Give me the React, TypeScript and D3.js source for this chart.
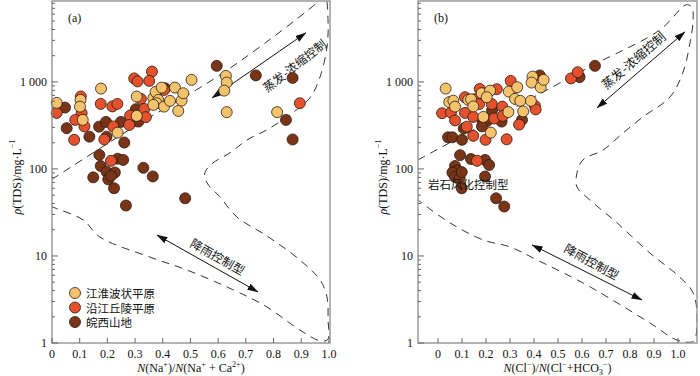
import React from 'react';
import * as d3 from 'd3';

const W = 700;
const H = 376;

// ---------- data: [ratio, TDS mg/L] ----------
const seriesNames = ['江淮波状平原', '沿江丘陵平原', '皖西山地'];
const seriesColors = ['#F5C36B', '#E5502D', '#7A3518'];

const aJianghuai: [number, number][] = [
  [0.017, 574], [0.103, 621], [0.101, 520], [0.111, 366], [0.177, 838], [0.237, 261],
  [0.306, 678], [0.366, 650], [0.374, 767], [0.396, 860], [0.384, 621], [0.378, 569],
  [0.366, 544], [0.405, 520], [0.426, 605], [0.444, 860], [0.456, 464], [0.468, 610],
  [0.474, 741], [0.504, 1055], [0.628, 1172], [0.631, 982], [0.622, 794], [0.631, 449],
  [0.813, 449], [0.306, 407],
];
const aYanjiang: [number, number][] = [
  [0.017, 440], [0.104, 681], [0.107, 437], [0.117, 308], [0.084, 366], [0.08, 216],
  [0.176, 559], [0.218, 523], [0.236, 559], [0.221, 308], [0.189, 218], [0.297, 1097],
  [0.309, 1013], [0.361, 1313], [0.351, 1027], [0.321, 638], [0.282, 410], [0.279, 320],
  [0.333, 489], [0.405, 809], [0.213, 124], [0.895, 569], [0.339, 393],
];
const aWanxi: [number, number][] = [
  [0.047, 507], [0.053, 294], [0.135, 235], [0.17, 306], [0.195, 347], [0.197, 235],
  [0.249, 347], [0.261, 201], [0.303, 486], [0.312, 350], [0.408, 847], [0.171, 145],
  [0.176, 108], [0.197, 93], [0.203, 76], [0.227, 91], [0.237, 131], [0.257, 127],
  [0.149, 80], [0.224, 60], [0.267, 38], [0.33, 103], [0.364, 82], [0.481, 46],
  [0.595, 1528], [0.736, 1188], [0.869, 1112], [0.845, 366], [0.869, 218], [0.213, 83],
];

const bJianghuai: [number, number][] = [
  [0.032, 838], [0.047, 586], [0.064, 608], [0.071, 520], [0.126, 621], [0.1375, 633],
  [0.147, 523], [0.182, 741], [0.217, 794], [0.203, 667], [0.189, 396], [0.22, 261],
  [0.295, 774], [0.33, 869], [0.321, 638], [0.343, 605], [0.293, 450], [0.355, 458],
  [0.387, 605], [0.394, 1151], [0.39, 982], [0.428, 865], [0.44, 1055],
];
const bYanjiang: [number, number][] = [
  [0.017, 437], [0.1125, 667], [0.154, 633], [0.171, 554], [0.174, 831], [0.054, 444],
  [0.1125, 440], [0.147, 396], [0.071, 361], [0.12, 306], [0.147, 240], [0.198, 216],
  [0.224, 556], [0.245, 824], [0.268, 520], [0.234, 380], [0.27, 407], [0.303, 1027],
  [0.286, 219], [0.338, 323], [0.404, 530], [0.407, 483], [0.554, 1097], [0.582, 1292],
  [0.1625, 124],
];
const bWanxi: [number, number][] = [
  [0.042, 231], [0.06, 231], [0.1075, 292], [0.1, 216], [0.185, 361], [0.204, 354],
  [0.183, 308], [0.225, 470], [0.265, 350], [0.35, 366], [0.424, 1188], [0.59, 1135],
  [0.654, 1528], [0.092, 144], [0.1375, 130], [0.196, 127], [0.213, 111], [0.071, 108],
  [0.08, 96], [0.06, 91], [0.071, 81], [0.09, 78], [0.099, 92], [0.099, 60], [0.196, 82],
  [0.242, 46], [0.276, 37],
];

// Gibbs boundary (closed dashed envelope)
const aBoundary: [number, number][] = [
  [0, 76], [0.3, 310], [0.59, 1110], [0.8, 3300], [0.955, 8000], [0.985, 9800],
  [0.997, 5000], [0.993, 2500], [0.968, 1140], [0.931, 655], [0.848, 396], [0.776, 281],
  [0.704, 215], [0.643, 153], [0.581, 117], [0.552, 90], [0.56, 69], [0.606, 48],
  [0.668, 28], [0.776, 17], [0.895, 9], [0.968, 5.3], [0.993, 3.4], [0.997, 1.84],
  [0.996, 1.1], [0.968, 1.06], [0.895, 1.41], [0.776, 2.6], [0.653, 4.1], [0.487, 6.9],
  [0.354, 9.7], [0.173, 16.5], [0.112, 26], [0.011, 35.6], [0, 37],
];
const bBoundary: [number, number][] = [
  [-0.083, 127], [0.633, 1490], [0.925, 3960], [1.035, 7700], [1.058, 7200], [1.063, 5160],
  [1.05, 2800], [1.02, 1270], [0.967, 672], [0.854, 396], [0.771, 259], [0.688, 165],
  [0.604, 127], [0.579, 90], [0.579, 62], [0.633, 44], [0.746, 24], [0.883, 10.8],
  [1.008, 5.7], [1.063, 3.76], [1.079, 2.2], [1.071, 1.1], [1.06, 1.03], [0.996, 1.08],
  [0.883, 1.7], [0.746, 2.9], [0.604, 4.9], [0.4125, 9], [0.3, 12.7], [0.1875, 15.3],
  [0.05, 24], [-0.067, 40.6], [-0.083, 44],
];

// double arrows [from, to]
const aArrows: [number, number][][] = [
  [[0.578, 655], [0.917, 3660]],
  [[0.379, 17.4], [0.744, 3.86]],
];
const bArrows: [number, number][][] = [
  [[0.6625, 502], [1.029, 3757]],
  [[0.392, 13.4], [0.85, 3.12]],
];

const xTicks = [0, 0.1, 0.2, 0.3, 0.4, 0.5, 0.6, 0.7, 0.8, 0.9, 1.0];
const xTickLabels = ['0', '0.1', '0.2', '0.3', '0.4', '0.5', '0.6', '0.7', '0.8', '0.9', '1.0'];
const yMajor = [1, 10, 100, 1000];
const yMajorLabels = ['1', '10', '100', '1 000'];

const SERIF = '"Liberation Serif", "Times New Roman", "Noto Sans CJK SC", serif';
const CJK = '"Noto Sans CJK SC", "Liberation Serif", serif';

type Part = [string, 'n' | 'i' | 'sup' | 'sub'];

function Rich({ parts, size }: { parts: Part[]; size: number }) {
  let cur = 0;
  const out: any[] = [];
  parts.forEach(([t, k], i) => {
    let target = 0;
    if (k === 'sup') target = -size * 0.38;
    if (k === 'sub') target = size * 0.25;
    const dy = target - cur;
    cur = target;
    out.push(
      <tspan
        key={i}
        dy={dy}
        fontStyle={k === 'i' ? 'italic' : 'normal'}
        fontSize={k === 'sup' || k === 'sub' ? size * 0.68 : size}
      >
        {t}
      </tspan>
    );
  });
  return <>{out}</>;
}

const yScale = d3.scaleLog().domain([1, 8500]).range([343, 1]);

function Panel({
  x, data, boundary, arrows, id, tag, texts, xLabel,
}: {
  x: d3.ScaleLinear<number, number>;
  data: [number, number][][];
  boundary: [number, number][];
  arrows: [number, number][][];
  id: string;
  tag: string;
  texts: { t: string; cx: number; cy: number; angle: number; size: number }[];
  xLabel: Part[];
}) {
  const [x0, x1] = x.range();
  const [y0, y1] = yScale.range();
  const line = d3
    .line<[number, number]>()
    .x((d) => x(d[0]))
    .y((d) => yScale(d[1]))
    .curve(d3.curveCatmullRom.alpha(0.5));
  const minor: number[] = [];
  for (const dec of [1, 10, 100, 1000]) {
    for (let m = 2; m <= 9; m++) {
      const v = dec * m;
      if (v < 8500) minor.push(v);
    }
  }
  const order = [2, 1, 0];
  return (
    <g>
      <defs>
        <clipPath id={'clip' + id}>
          <rect x={x0} y={y1} width={x1 - x0} height={y0 - y1} />
        </clipPath>
      </defs>
      <g clipPath={`url(#clip${id})`}>
        <path d={line(boundary) || ''} fill="none" stroke="#333" strokeWidth={1} strokeDasharray="8,6" />
      </g>
      {arrows.map((a, i) => (
        <line
          key={i}
          x1={x(a[0][0])}
          y1={yScale(a[0][1])}
          x2={x(a[1][0])}
          y2={yScale(a[1][1])}
          stroke="#111"
          strokeWidth={1}
          markerStart="url(#ah)"
          markerEnd="url(#ah)"
        />
      ))}
      {texts.map((t, i) => (
        <text
          key={i}
          x={t.cx}
          y={t.cy}
          transform={`rotate(${t.angle},${t.cx},${t.cy})`}
          textAnchor="middle"
          dominantBaseline="central"
          fontFamily={CJK}
          fontSize={t.size}
          fill="#111"
        >
          {t.t}
        </text>
      ))}
      {order.map((si) =>
        data[si].map((d, i) => (
          <circle
            key={si + '-' + i}
            cx={x(d[0])}
            cy={yScale(d[1])}
            r={5.5}
            fill={seriesColors[si]}
            stroke="#2a1c12"
            strokeWidth={0.8}
          />
        ))
      )}
      {/* frame */}
      <rect x={x0} y={y1} width={x1 - x0} height={y0 - y1} fill="none" stroke="#8a8a8a" strokeWidth={1.3} />
      {/* y ticks */}
      {yMajor.map((v, i) => (
        <g key={'ym' + i}>
          <line x1={x0} x2={x0 + 6} y1={yScale(v)} y2={yScale(v)} stroke="#666" strokeWidth={1} />
          <text
            x={x0 - 5}
            y={yScale(v)}
            textAnchor="end"
            dominantBaseline="central"
            fontFamily={SERIF}
            fontSize={12}
            fill="#111"
          >
            {yMajorLabels[i]}
          </text>
        </g>
      ))}
      {minor.map((v, i) => (
        <line key={'yn' + i} x1={x0} x2={x0 + 3} y1={yScale(v)} y2={yScale(v)} stroke="#666" strokeWidth={1} />
      ))}
      {xTicks.map((v, i) => (
        <g key={'xt' + i}>
          <line x1={x(v)} x2={x(v)} y1={y0} y2={y0 - 5} stroke="#666" strokeWidth={1} />
          <text x={x(v)} y={y0 + 15} textAnchor="middle" fontFamily={SERIF} fontSize={12} fill="#111">
            {xTickLabels[i]}
          </text>
        </g>
      ))}
      <text x={x0 + 16} y={22} fontFamily={SERIF} fontSize={12} fill="#111">
        {tag}
      </text>
      <text x={(x0 + x1) / 2} y={372} textAnchor="middle" fontFamily={SERIF} fontSize={12} fill="#111">
        <Rich parts={xLabel} size={12} />
      </text>
    </g>
  );
}

const yLabelParts: Part[] = [['ρ', 'i'], ['(TDS)/mg·L', 'n'], ['−1', 'sup']];
const xLabelA: Part[] = [
  ['N', 'i'], ['(Na', 'n'], ['+', 'sup'], [')/', 'n'], ['N', 'i'], ['(Na', 'n'], ['+', 'sup'],
  [' + Ca', 'n'], ['2+', 'sup'], [')', 'n'],
];
const xLabelB: Part[] = [
  ['N', 'i'], ['(Cl', 'n'], ['−', 'sup'], [')/', 'n'], ['N', 'i'], ['(Cl', 'n'], ['−', 'sup'],
  ['+HCO', 'n'], ['3', 'sub'], ['−', 'sup'], [')', 'n'],
];

export default function App() {
  const xA = d3.scaleLinear().domain([0, 1.004]).range([52, 330]);
  const xB = d3.scaleLinear().domain([-0.0833, 1.0792]).range([418, 697]);
  return (
    <svg
      width={W}
      height={H}
      style={{ position: 'absolute', left: 0, top: 0, background: '#fff' }}
    >
      <defs>
        <marker
          id="ah"
          viewBox="0 0 11 7"
          refX={10.5}
          refY={3.5}
          markerWidth={11}
          markerHeight={7}
          markerUnits="userSpaceOnUse"
          orient="auto-start-reverse"
        >
          <path d="M0,0 L11,3.5 L0,7 Z" fill="#111" />
        </marker>
      </defs>
      <rect x={0} y={0} width={W} height={H} fill="#fff" />
      <Panel
        x={xA}
        data={[aJianghuai, aYanjiang, aWanxi]}
        boundary={aBoundary}
        arrows={aArrows}
        id="a"
        tag="(a)"
        texts={[
          { t: '蒸发-浓缩控制', cx: 294, cy: 65, angle: -38, size: 12 },
          { t: '降雨控制型', cx: 218, cy: 256, angle: 29.5, size: 12 },
        ]}
        xLabel={xLabelA}
      />
      <Panel
        x={xB}
        data={[bJianghuai, bYanjiang, bWanxi]}
        boundary={bBoundary}
        arrows={bArrows}
        id="b"
        tag="(b)"
        texts={[
          { t: '蒸发-浓缩控制', cx: 633, cy: 60, angle: -40.8, size: 12.5 },
          { t: '降雨控制型', cx: 592, cy: 261, angle: 29, size: 12 },
        ]}
        xLabel={xLabelB}
      />
      <text x={428} y={184} dominantBaseline="central" fontFamily={CJK} fontSize={11.5} fill="#111">
        岩石风化控制型
      </text>
      {/* y axis labels */}
      <text
        transform="translate(17,177) rotate(-90)"
        textAnchor="middle"
        dominantBaseline="central"
        fontFamily={SERIF}
        fontSize={12}
        fill="#111"
      >
        <Rich parts={yLabelParts} size={12} />
      </text>
      <text
        transform="translate(383,177) rotate(-90)"
        textAnchor="middle"
        dominantBaseline="central"
        fontFamily={SERIF}
        fontSize={12}
        fill="#111"
      >
        <Rich parts={yLabelParts} size={12} />
      </text>
      {/* legend */}
      {seriesNames.map((n, i) => (
        <g key={n}>
          <circle cx={75} cy={293 + i * 14.5} r={5.5} fill={seriesColors[i]} stroke="#2a1c12" strokeWidth={0.8} />
          <text x={86} y={293 + i * 14.5} dominantBaseline="central" fontFamily={CJK} fontSize={11.5} fill="#111">
            {n}
          </text>
        </g>
      ))}
    </svg>
  );
}
